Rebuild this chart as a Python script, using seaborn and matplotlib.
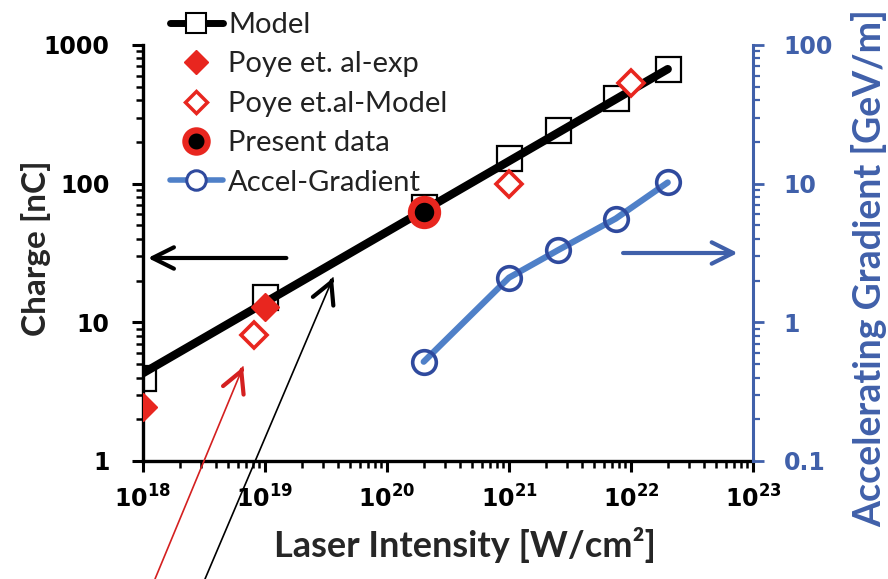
import matplotlib
matplotlib.use("Agg")
import numpy as np
import matplotlib.pyplot as plt
import seaborn as sns
from matplotlib.lines import Line2D
from matplotlib.ticker import FixedLocator, FixedFormatter, LogLocator, NullFormatter

# Laser intensity [W/cm^2] versus bunch charge [nC]
model_intensity = [1e18, 1e19, 2e20, 1e21, 2.5e21, 7.5e21, 2e22]
model_charge = [4.0, 15.2, 68, 153, 243, 414, 670]

# power-law trend line through the model points
trend_intensity = [1e18, 2e22]
trend_charge = [4.3, 670]

poye_exp_intensity = [1e18, 1e19]
poye_exp_charge = [2.45, 13.0]

poye_model_intensity = [8.2e18, 1e21, 1e22]
poye_model_charge = [8.1, 100, 530]

present_intensity = [2e20]
present_charge = [62]

# accelerating gradient [GeV/m] on the right axis
grad_intensity = [2e20, 1e21, 2.5e21, 7.5e21, 2e22]
grad_gev_m = [0.52, 2.1, 3.3, 5.6, 10.2]

x_ticks = [1e18, 1e19, 1e20, 1e21, 1e22, 1e23]
x_tick_labels = [r"$10^{18}$", r"$10^{19}$", r"$10^{20}$", r"$10^{21}$", r"$10^{22}$", r"$10^{23}$"]
left_ticks = [1, 10, 100, 1000]
left_tick_labels = ["1", "10", "100", "1000"]
right_ticks = [0.1, 1, 10, 100]
right_tick_labels = ["0.1", "1", "10", "100"]

series_labels = ["Model", "Poye et. al-exp", "Poye et.al-Model", "Present data", "Accel-Gradient"]

RED = "#e8261f"
BLUE_AXIS = "#4060aa"
BLUE_LINE = "#4f80c8"
BLUE_EDGE = "#2f4a9e"
LABEL_FONT = "Lato"
TICK_FONT = "DejaVu Sans"

sns.set_theme(style="white")
plt.rcParams["font.family"] = [LABEL_FONT, "DejaVu Sans"]
plt.rcParams["mathtext.fontset"] = "custom"
plt.rcParams["mathtext.rm"] = f"{TICK_FONT}:bold"
plt.rcParams["mathtext.bf"] = f"{TICK_FONT}:bold"
plt.rcParams["mathtext.it"] = f"{TICK_FONT}:bold"

W, H = 888, 579
fig = plt.figure(figsize=(W / 100, H / 100), dpi=100)
ax = fig.add_axes([143 / W, 1 - 461 / H, 610 / W, 416 / H])
ax.set_xscale("log")
ax.set_yscale("log")
ax.set_xlim(1e18, 1e23)
ax.set_ylim(1, 1000)

# model squares, trend line, literature points and present measurement
sns.lineplot(x=model_intensity, y=model_charge, ax=ax, marker="s", linestyle="none",
             markersize=18, markerfacecolor="white", markeredgecolor="black",
             markeredgewidth=1.6, color="black", zorder=2, legend=False)
sns.lineplot(x=trend_intensity, y=trend_charge, ax=ax, color="black", linewidth=6,
             zorder=3, legend=False)
sns.lineplot(x=poye_exp_intensity, y=poye_exp_charge, ax=ax, marker="D", linestyle="none",
             markersize=14, markerfacecolor=RED, markeredgecolor=RED, markeredgewidth=1,
             color=RED, zorder=4, legend=False)
sns.lineplot(x=poye_model_intensity, y=poye_model_charge, ax=ax, marker="D", linestyle="none",
             markersize=13, markerfacecolor="white", markeredgecolor=RED, markeredgewidth=2.6,
             color=RED, zorder=4, legend=False)
sns.lineplot(x=present_intensity, y=present_charge, ax=ax, marker="o", linestyle="none",
             markersize=19, markerfacecolor="black", markeredgecolor=RED, markeredgewidth=5,
             color=RED, zorder=5, legend=False)

ax2 = ax.twinx()
ax2.set_yscale("log")
ax2.set_ylim(0.1, 100)
sns.lineplot(x=grad_intensity, y=grad_gev_m, ax=ax2, color=BLUE_LINE, linewidth=4.5,
             marker="o", markersize=17, markerfacecolor="none", markeredgecolor=BLUE_EDGE,
             markeredgewidth=2.6, zorder=3, legend=False)
ax2.set_xlim(1e18, 1e23)

# spines
for s in ["top", "right"]:
    ax.spines[s].set_visible(False)
for s in ["left", "bottom"]:
    ax.spines[s].set_color("black")
    ax.spines[s].set_linewidth(2.4)
for s in ["top", "left", "bottom"]:
    ax2.spines[s].set_visible(False)
ax2.spines["right"].set_color(BLUE_AXIS)
ax2.spines["right"].set_linewidth(2.2)

# ticks
ax.xaxis.set_major_locator(FixedLocator(x_ticks))
ax.xaxis.set_major_formatter(FixedFormatter(x_tick_labels))
ax.xaxis.set_minor_locator(LogLocator(base=10, subs=range(2, 10), numticks=20))
ax.xaxis.set_minor_formatter(NullFormatter())
ax.yaxis.set_major_locator(FixedLocator(left_ticks))
ax.yaxis.set_major_formatter(FixedFormatter(left_tick_labels))
ax.yaxis.set_minor_locator(LogLocator(base=10, subs=range(2, 10), numticks=20))
ax.yaxis.set_minor_formatter(NullFormatter())
ax2.yaxis.set_major_locator(FixedLocator(right_ticks))
ax2.yaxis.set_major_formatter(FixedFormatter(right_tick_labels))
ax2.yaxis.set_minor_locator(LogLocator(base=10, subs=range(2, 10), numticks=20))
ax2.yaxis.set_minor_formatter(NullFormatter())

ax.tick_params(axis="both", which="major", direction="out", length=8, width=2.2,
               color="black", labelcolor="black", labelsize=17)
ax.tick_params(axis="both", which="minor", direction="out", length=5, width=1.8, color="black")
ax.tick_params(axis="y", which="major", pad=16, left=True)
ax.tick_params(axis="y", which="minor", left=True)
ax.tick_params(axis="x", which="major", pad=9, bottom=True)
ax.tick_params(axis="x", which="minor", bottom=True)
for lbl in ax.get_yticklabels():
    lbl.set_fontfamily(TICK_FONT)
    lbl.set_fontweight("bold")
ax2.tick_params(axis="y", which="major", direction="out", length=8, width=2.0,
                color=BLUE_AXIS, labelcolor=BLUE_AXIS, labelsize=17, pad=14, right=True)
ax2.tick_params(axis="y", which="minor", direction="out", length=5, width=1.6,
                color=BLUE_AXIS, right=True)
for lbl in ax2.get_yticklabels():
    lbl.set_fontfamily(TICK_FONT)
    lbl.set_fontweight("bold")

ax.set_xlabel("Laser Intensity [W/cm²]", fontsize=26, fontweight="bold")
ax.xaxis.set_label_coords((465 - 143) / 610, (461 - 527) / 416)
ax.set_ylabel("Charge [nC]", fontsize=24, fontweight="bold")
ax.yaxis.set_label_coords((51 - 143) / 610, (461 - 248) / 416)
ax2.set_ylabel("Accelerating Gradient [GeV/m]", fontsize=27, fontweight="bold",
               color=BLUE_AXIS)
ax2.yaxis.set_label_coords((851 - 143) / 610, (461 - 268) / 416)

# axis-pointing arrows
arrow_style = "->,head_length=0.7,head_width=0.35"
ax.annotate("", xy=(0.008, 0.488), xytext=(0.235, 0.488), xycoords="axes fraction",
            arrowprops=dict(arrowstyle=arrow_style, lw=3, color="black",
                            shrinkA=0, shrinkB=0, mutation_scale=22))
ax.annotate("", xy=(0.975, 0.5), xytext=(0.787, 0.5), xycoords="axes fraction",
            arrowprops=dict(arrowstyle=arrow_style, lw=3, color=BLUE_AXIS,
                            shrinkA=0, shrinkB=0, mutation_scale=22))


def pointer(tail_px, head_px, color):
    """Thin leader line coming in from the lower edge, with a bold open head."""
    tail = (tail_px[0] / W, 1 - tail_px[1] / H)
    head = (head_px[0] / W, 1 - head_px[1] / H)
    common = dict(xycoords="figure fraction", textcoords="figure fraction",
                  annotation_clip=False)
    ax.annotate("", xy=head, xytext=tail,
                arrowprops=dict(arrowstyle="-", lw=1.2, color=color,
                                shrinkA=0, shrinkB=0), **common)
    d = np.array(head_px, float) - np.array(tail_px, float)
    d /= np.hypot(*d)
    near = np.array(head_px, float) - 3 * d
    near = (near[0] / W, 1 - near[1] / H)
    ax.annotate("", xy=head, xytext=near,
                arrowprops=dict(arrowstyle="->,head_length=0.75,head_width=0.4", lw=3,
                                color=color, shrinkA=0, shrinkB=0, mutation_scale=20),
                **common)


pointer((155, 579), (243, 367), "#d42020")
pointer((205, 579), (333, 278), "black")

# legend
handles = [
    Line2D([], [], color="black", lw=5, marker="s", markersize=14, markerfacecolor="white",
           markeredgecolor="black", markeredgewidth=1.5),
    Line2D([], [], linestyle="none", marker="D", markersize=12, markerfacecolor=RED,
           markeredgecolor=RED),
    Line2D([], [], linestyle="none", marker="D", markersize=11, markerfacecolor="white",
           markeredgecolor=RED, markeredgewidth=2.5),
    Line2D([], [], linestyle="none", marker="o", markersize=16, markerfacecolor="black",
           markeredgecolor=RED, markeredgewidth=4.5),
    Line2D([], [], color=BLUE_LINE, lw=4, marker="o", markersize=14, markerfacecolor="white",
           markeredgecolor=BLUE_EDGE, markeredgewidth=2.2),
]
leg = fig.legend(handles, series_labels, loc="upper left", bbox_to_anchor=(170 / W, 1 - 12 / H),
                 frameon=False, fontsize=21, handlelength=1.8, handletextpad=0.2,
                 labelspacing=0.46, borderpad=0.0, borderaxespad=0.0)
for t in leg.get_texts():
    t.set_color("#222222")

fig.savefig("out.png", dpi=100, facecolor="white")
